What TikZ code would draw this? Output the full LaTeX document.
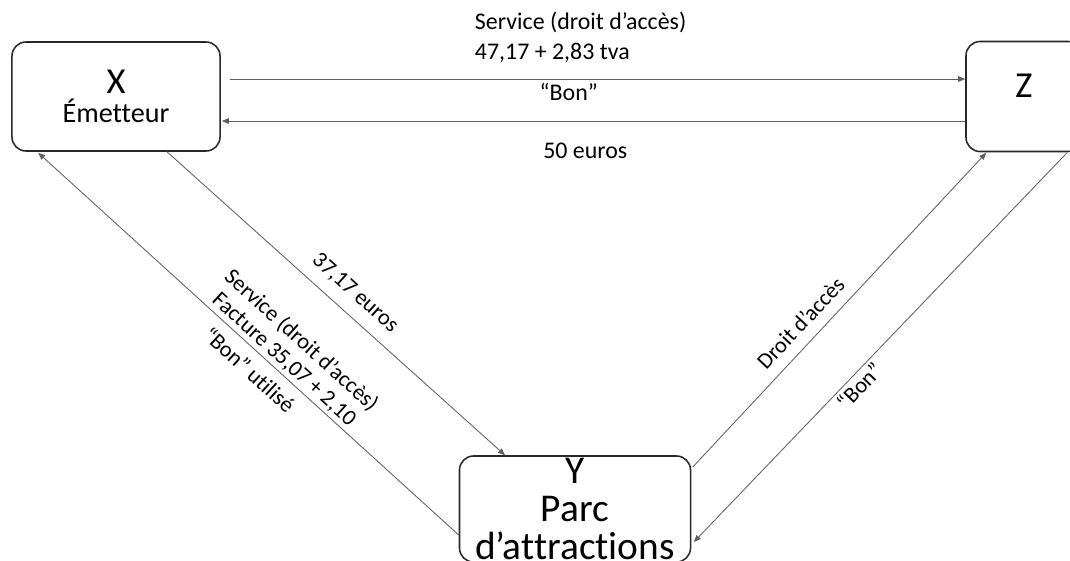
\documentclass[tikz,border=0pt]{standalone}
\usepackage{fontspec}
\setmainfont{Carlito}[Ligatures={TeX,NoCommon}]
\usetikzlibrary{arrows.meta}
\definecolor{frame}{RGB}{40,40,40}
\definecolor{edge}{RGB}{95,95,95}
\newcommand{\pxu}{0.025cm}

\begin{document}
\begin{tikzpicture}[
    x=\pxu, y=-\pxu,
    box/.style={draw=frame,line width=1.1pt,rounded corners=10pt,align=center,
                inner sep=0pt,font=\fontsize{26}{27}\selectfont},
    arrow/.style={-{Triangle[length=5pt,width=4pt]},draw=edge,line width=0.6pt},
    lbl/.style={font=\fontsize{16}{18}\selectfont,inner sep=2pt},
    toplbl/.style={font=\fontsize{17}{21}\selectfont,inner sep=2pt}
  ]
    \useasboundingbox (0,0) rectangle (1070,560);
    \clip (0,0) rectangle (1070,560);
    % the three parties
    \node[box,minimum width=5.2cm,minimum height=2.725cm,font=\fontsize{20}{21}\selectfont]
      (X) at (116,96.5) {{\fontsize{26}{21}\selectfont X}\\Émetteur};
    \node[box,minimum width=2.9cm,minimum height=2.75cm,text depth=0.55cm]
      (Z) at (1024,96.5) {Z};
    \node[box,minimum width=5.775cm,minimum height=2.65cm,font=\fontsize{28}{27}\selectfont]
      (Y) at (575,509) {Y\\Parc\\d'attractions};
    % X <-> Z
    \draw[arrow] ([shift={(9,-17.5)}]X.east) -- ([shift={(0,-17.5)}]Z.west)
      node[toplbl,pos=0.477,above=9.5pt,align=left] {Service (droit d'accès)\\47,17 + 2,83 tva}
      node[toplbl,pos=0.461,below=1pt] {“Bon”};
    \draw[arrow] ([shift={(0,24.5)}]Z.west) -- ([shift={(1,24.5)}]X.east)
      node[toplbl,pos=0.511,below=13pt] {50 euros};
    % X <-> Y
    \draw[arrow] ([shift={(51,0)}]X.south) -- ([shift={(-70,0)}]Y.north)
      node[lbl,sloped,pos=0.516,above=6pt] {37,17 euros};
    \draw[arrow] ([shift={(0,26)}]Y.west) -- ([shift={(27,1)}]X.south west)
      node[lbl,sloped,pos=0.435,above=0pt,align=center] {Service (droit d'accès)\\Facture 35,07 + 2,10}
      node[lbl,sloped,pos=0.468,below=5pt] {“Bon” utilisé};
    % Y <-> Z
    \draw[arrow] ([shift={(1.5,-42)}]Y.east) -- ([shift={(21,0.5)}]Z.south west)
      node[lbl,sloped,pos=0.416,above=6pt] {Droit d'accès};
    \draw[arrow] ([shift={(43,0.5)}]Z.south) -- ([shift={(2.5,33)}]Y.east)
      node[lbl,sloped,pos=0.579,below=0pt] {“Bon”};
\end{tikzpicture}
\end{document}
